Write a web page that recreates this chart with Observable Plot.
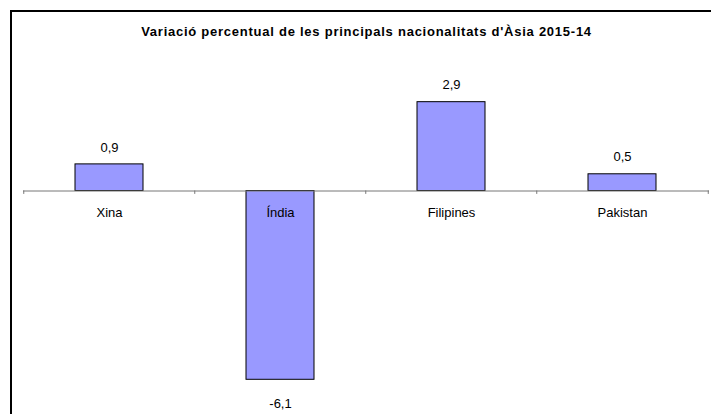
<!DOCTYPE html>
<html>
<head>
<meta charset="utf-8">
<script src="https://cdn.jsdelivr.net/npm/d3@7"></script>
<script src="https://cdn.jsdelivr.net/npm/@observablehq/plot@0.6"></script>
<style>
  html, body { margin: 0; padding: 0; background: #fff; }
  #wrap { position: relative; width: 711px; height: 414px; overflow: hidden; }
  #frame { position: absolute; left: 10px; top: 10px; width: 720px; height: 420px;
           border-left: 2px solid #000; border-top: 2px solid #000; box-sizing: border-box; pointer-events: none; }
  svg { display: block; }
  #chart svg text { font-family: "Liberation Sans", Arial, sans-serif; }
</style>
</head>
<body>
<div id="wrap"><div id="chart"></div><div id="frame"></div></div>
<script>
const titleText = "Variació percentual de les principals nacionalitats d'Àsia 2015-14";
const categories = ["Xina", "Índia", "Filipines", "Pakistan"];
const values = [0.86, -6.1, 2.87, 0.54];

const data = categories.map((c, i) => ({category: c, value: values[i]}));
const fmt = v => v.toFixed(1).replace(".", ",");
const font = "Liberation Sans, Arial, sans-serif";
const W = 711, H = 414;
const mL = 23, mR = 2;
const band = (W - mL - mR) / categories.length;

const chart = Plot.plot({
  width: W,
  height: H,
  marginLeft: mL,
  marginRight: mR,
  marginTop: 35.75,
  marginBottom: 6.85,
  style: {fontFamily: font, fontSize: "13px", color: "#000", background: "transparent"},
  x: {type: "band", domain: categories, padding: 0.6, paddingOuter: 0.3, axis: null},
  y: {domain: [-7, 5], axis: null},
  marks: [
    Plot.barY(data, {x: "category", y: "value", fill: "#9999ff", stroke: "#000", strokeWidth: 1}),
    Plot.ruleY([0], {stroke: "#777", strokeWidth: 1}),
    Plot.ruleX(categories, {x: d => d, y1: 0, y2: -0.11, dx: -band / 2, stroke: "#777"}),
    Plot.ruleX([categories[categories.length - 1]], {x: d => d, y1: 0, y2: -0.11, dx: band / 2, stroke: "#777"}),
    Plot.text(data, {x: "category", y: 0, text: "category", dy: 22, fill: "#000", fontSize: 13}),
    Plot.text(data.filter(d => d.value >= 0), {x: "category", y: "value", text: d => fmt(d.value), dy: -17, fill: "#000", fontSize: 13}),
    Plot.text(data.filter(d => d.value < 0), {x: "category", y: "value", text: d => fmt(d.value), dy: 24, fill: "#000", fontSize: 13}),
    Plot.text([titleText], {frameAnchor: "top", text: d => d, dy: -4, lineAnchor: "middle", fontWeight: "bold", fontSize: 13, fill: "#000", style: "letter-spacing: 0.75px"})
  ]
});
chart.querySelectorAll("text").forEach(t => { if (t.textContent === titleText) t.setAttribute("letter-spacing", "0.75"); });
document.getElementById("chart").append(chart);
</script>
</body>
</html>
